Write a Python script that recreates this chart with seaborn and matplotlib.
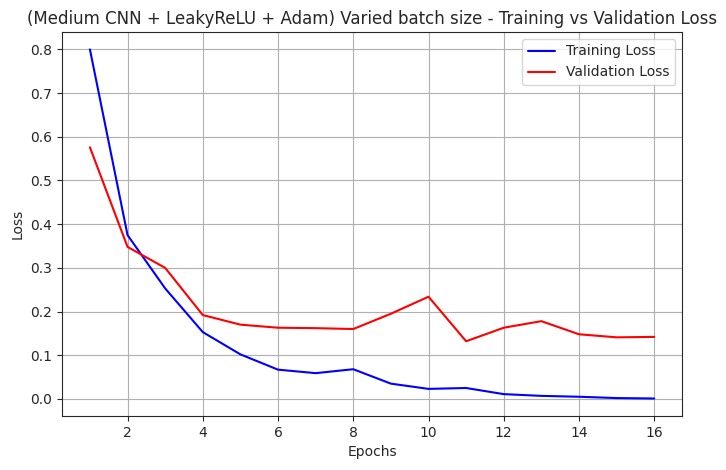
import matplotlib
matplotlib.use("Agg")
import matplotlib.pyplot as plt
import seaborn as sns
import pandas as pd

epochs = list(range(1, 17))
train_loss = [0.80, 0.375, 0.253, 0.153, 0.102, 0.067, 0.059, 0.068, 0.035, 0.023, 0.025, 0.011, 0.007, 0.005, 0.002, 0.001]
val_loss = [0.576, 0.348, 0.300, 0.192, 0.170, 0.163, 0.162, 0.160, 0.195, 0.234, 0.132, 0.163, 0.178, 0.148, 0.141, 0.142]

sns.set_style("ticks")
plt.rcParams['font.family'] = ['DejaVu Sans']
fig = plt.figure(figsize=(7.26, 4.7), dpi=100)
ax = fig.add_axes([0.085, 0.115, 0.855, 0.817])
sns.lineplot(x=epochs, y=train_loss, ax=ax, color="blue", label="Training Loss")
sns.lineplot(x=epochs, y=val_loss, ax=ax, color="red", label="Validation Loss")
ax.set_xticks(range(2, 17, 2))
ax.set_xlabel("Epochs")
ax.set_ylabel("Loss")
ax.set_title("(Medium CNN + LeakyReLU + Adam) Varied batch size - Training vs Validation Loss")
ax.grid(True, color="#b0b0b0", linewidth=0.8)
ax.legend(loc="upper right")
for s in ax.spines.values():
    s.set_visible(True)
fig.savefig("out.png", dpi=100)
